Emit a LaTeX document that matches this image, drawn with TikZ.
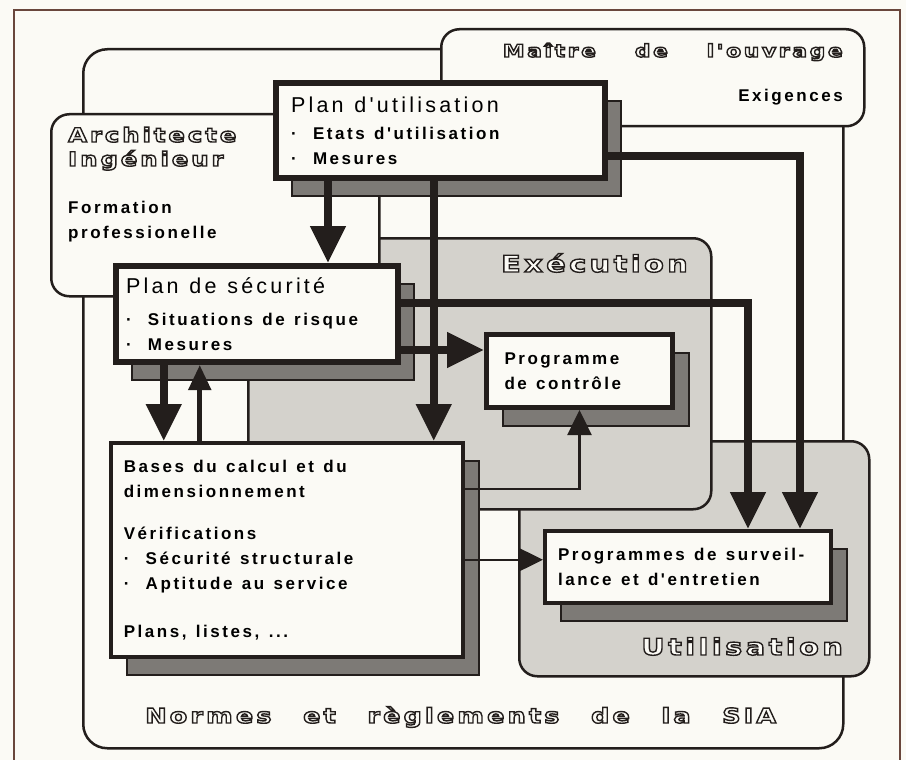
\documentclass[tikz,border=0pt]{standalone}
\usepackage{fontspec}
\usepackage{xcolor}
\usetikzlibrary{arrows.meta, shadows}
\setmainfont{Liberation Sans}
\newfontfamily\bodyfont{Liberation Sans}[LetterSpace=15]
\newfontfamily\outfont{DejaVu Sans}[LetterSpace=15, FakeStretch=1.25]
\definecolor{paper}{RGB}{251,250,245}
\definecolor{ink}{RGB}{35,30,28}
\definecolor{stipple}{RGB}{212,210,204}
\definecolor{shade}{RGB}{125,122,118}
\definecolor{frameline}{RGB}{105,70,60}
\newcommand{\bodytext}{\bodyfont\bfseries\fontsize{17}{25}\selectfont}
\newcommand{\widespace}{\spaceskip=.55em plus .2em minus .1em\relax}
\newcommand{\boxtitle}[1]{{\bodyfont\mdseries\fontsize{21.5}{25}\selectfont\spaceskip=.5em plus .2em minus .1em\relax #1}}
\newcommand{\outl}[1]{\textcolor{paper}{\special{pdf:literal direct 2 Tr 1.4 w 0.137 0.118 0.110 RG}#1\special{pdf:literal direct 0 Tr}}}
\newcommand{\itm}{\makebox[22pt][l]{·}}

\begin{document}
\begin{tikzpicture}[x=1pt, y=-1pt,
    region/.style={draw=ink, line width=2.5pt, rounded corners=18pt, anchor=north west, inner sep=0pt},
    plate/.style={draw=ink, fill=paper, anchor=north west, align=left, inner ysep=0pt, font=\bodytext,
        execute at begin node=\widespace,
        drop shadow={shadow xshift=16pt, shadow yshift=-18pt, fill=shade, draw=ink, line width=2pt, opacity=1}},
    outl/.style={inner sep=0pt, font=\outfont\bfseries\fontsize{#1}{#1}\selectfont},
    note/.style={inner sep=0pt, font=\bodytext, execute at begin node=\widespace},
    bigarrow/.style={draw=ink, line width=8pt, -{Triangle[width=34pt, length=37pt]}},
    midarrow/.style={draw=ink, line width=5pt, -{Triangle[width=22pt, length=25pt]}},
    thinarrow/.style={draw=ink, line width=2.5pt, -{Triangle[width=24pt, length=25pt]}}]

    \fill[paper] (0,0) rectangle (906,760);
    \useasboundingbox (0,0) rectangle (906,760);
    \draw[frameline, line width=1.5pt] (14,760) -- (14,10) -- (900,10) -- (900,760);

    \node[region, fill=paper, minimum width=760pt, minimum height=699pt, rounded corners=24pt] (normes) at (82,48) {};
    \node[region, fill=paper, minimum width=423pt, minimum height=97pt] (maitre) at (440,28) {};
    \node[region, fill=stipple, minimum width=350pt, minimum height=235pt] (usage) at (518,440) {};
    \node[region, fill=stipple, minimum width=463pt, minimum height=271pt] (exec) at (247,237) {};
    \node[region, fill=paper, minimum width=328pt, minimum height=182pt] (archi) at (50,113) {};

    \node[outl=17.5, anchor=base east] (maitretxt) at (843,57) {\outl{\makebox[340pt][s]{Maître de l'ouvrage}}};
    \node[note, anchor=base east] (exig) at (843,102) {Exigences};
    \node[outl=19.5, anchor=base west] (architxt) at (68,142) {\outl{Architecte}};
    \node[outl=19.5, anchor=base west] (ingtxt) at (68,166) {\outl{Ingénieur}};
    \node[note, anchor=north west, align=left] (formtxt) at (68,201) {Formation\\professionelle};
    \node[outl=23, anchor=base east] (exectxt) at (688,272) {\outl{Exécution}};
    \node[outl=23, anchor=base east] (usagetxt) at (843,655) {\outl{Utilisation}};
    \node[outl=20.5, anchor=base west] (normestxt) at (145,723) {\outl{\makebox[631pt][s]{Normes et règlements de la SIA}}};

    \node[plate, line width=6pt, inner xsep=15pt, minimum width=329pt, minimum height=95pt, text width=299pt] (putil) at (273,80)
        {\boxtitle{Plan d'utilisation}\\[2pt]\itm Etats d'utilisation\\\itm Mesures};
    \node[plate, line width=6pt, inner xsep=10pt, minimum width=282pt, minimum height=96pt, text width=262pt] (psec) at (113,263)
        {\boxtitle{Plan de sécurité}\\[7pt]\itm Situations de risque\\\itm Mesures};
    \node[plate, line width=5pt, inner xsep=18pt, minimum width=186pt, minimum height=73pt, text width=150pt] (pctrl) at (484,332)
        {Programme\\de contrôle};
    \node[plate, line width=3.5pt, inner xsep=13pt, minimum width=352pt, minimum height=214pt, text width=326pt] (pbase) at (109,441)
        {Bases du calcul et du\\dimensionnement\\[17pt]Vérifications\\\itm Sécurité structurale\\\itm Aptitude au service\\[23pt]Plans, listes, ...};
    \node[plate, line width=4pt, inner xsep=13pt, minimum width=286pt, minimum height=72pt, text width=260pt] (psurv) at (543,529)
        {\mbox{Programmes de surveil-}\\\mbox{lance et d'entretien}};

    \coordinate (t1) at ([xshift=71pt]psec.north);
    \coordinate (t2) at ([xshift=147pt]pbase.north);
    \coordinate (s3) at ([yshift=-25.5pt]putil.east);
    \coordinate (s4) at ([yshift=11pt]psec.east);
    \coordinate (s5) at ([yshift=-36pt]psec.east);
    \coordinate (t6) at ([xshift=-123pt]pbase.north);
    \coordinate (t7) at ([xshift=-87pt]pbase.north);
    \coordinate (s8) at ([yshift=61pt]pbase.east);
    \coordinate (s9) at ([yshift=-10pt]pbase.east);

    \draw[bigarrow] (putil.south -| t1) -- (t1);
    \draw[bigarrow] (putil.south -| t2) -- (t2);
    \draw[bigarrow] (s3) -| ([xshift=112pt]psurv.north);
    \draw[bigarrow] (s4) -| ([xshift=60pt]psurv.north);
    \draw[bigarrow] (s5) -- (s5 -| pctrl.west);
    \draw[bigarrow] (psec.south -| t6) -- (t6);
    \draw[midarrow] (t7) -- (psec.south -| t7);
    \draw[thinarrow] (s8) -| (pctrl.south);
    \draw[thinarrow] (s9) -- (s9 -| psurv.west);
\end{tikzpicture}
\end{document}
